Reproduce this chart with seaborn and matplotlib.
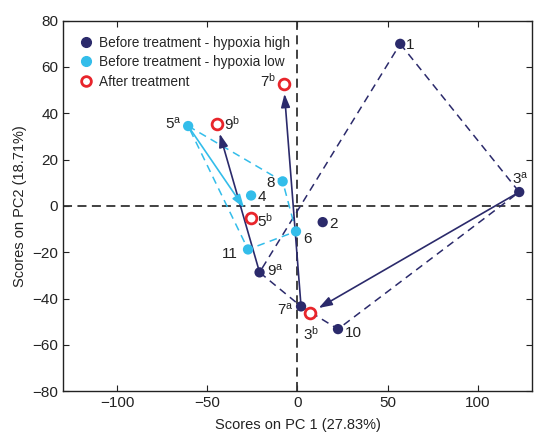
import numpy as np
import pandas as pd
import matplotlib
matplotlib.use('Agg')
import matplotlib.pyplot as plt
import seaborn as sns
from matplotlib.lines import Line2D

sns.set_style('ticks')
plt.rcParams['font.family'] = ['Liberation Sans', 'DejaVu Sans']
plt.rcParams['mathtext.fontset'] = 'custom'
plt.rcParams['mathtext.rm'] = 'Liberation Sans'
plt.rcParams['mathtext.it'] = 'Liberation Sans'

# before treatment - hypoxia high
high_lbl = ['1', '$3^{a}$', '2', '$9^{a}$', '$7^{a}$', '10']
high_x = [57, 123, 14, -21, 2, 22.5]
high_y = [70, 6, -7, -28.7, -43.4, -53.2]
# before treatment - hypoxia low
low_lbl = ['$5^{a}$', '8', '4', '6', '11']
low_x = [-60.6, -8.2, -25.7, -0.8, -27.4]
low_y = [34.5, 10.6, 4.5, -11, -18.8]
# after treatment
after_lbl = ['$7^{b}$', '$9^{b}$', '$5^{b}$', '$3^{b}$']
after_x = [-7.6, -44.6, -25.7, 7.1]
after_y = [52.6, 35.2, -5.3, -46.2]

dark = '#2b2a6b'
light = '#33bdea'
red = '#e8252b'

hi = pd.DataFrame({'x': high_x, 'y': high_y, 'lbl': high_lbl})
lo = pd.DataFrame({'x': low_x, 'y': low_y, 'lbl': low_lbl})
af = pd.DataFrame({'x': after_x, 'y': after_y, 'lbl': after_lbl})

fig = plt.figure(figsize=(5.34, 4.4), dpi=100)
ax = fig.add_axes([0.118, 0.111, 0.878, 0.842])

ax.axhline(0, color='#333333', ls=(0, (5, 3)), lw=1.3, zorder=1)
ax.axvline(0, color='#333333', ls=(0, (5, 3)), lw=1.3, zorder=1)

# hulls
hull_hi = ['1', '$3^{a}$', '10', '$7^{a}$', '$9^{a}$', '1']
hh = hi.set_index('lbl').loc[hull_hi]
ax.plot(hh['x'], hh['y'], color=dark, ls=(0, (5, 3.5)), lw=1.1, zorder=2)
hull_lo = ['$5^{a}$', '8', '6', '11', '$5^{a}$']
hl = lo.set_index('lbl').loc[hull_lo]
ax.plot(hl['x'], hl['y'], color=light, ls=(0, (5, 3.5)), lw=1.1, zorder=2)

# treatment arrows
pos = pd.concat([hi, lo, af]).set_index('lbl')
arrows = [('$9^{a}$', '$9^{b}$', dark, 7), ('$7^{a}$', '$7^{b}$', dark, 7),
          ('$3^{a}$', '$3^{b}$', dark, 7), ('$5^{a}$', '$5^{b}$', light, 9)]
for a, b, c, sh in arrows:
    ax.annotate('', xy=(pos.loc[b, 'x'], pos.loc[b, 'y']),
                xytext=(pos.loc[a, 'x'], pos.loc[a, 'y']),
                arrowprops=dict(arrowstyle='-|>,head_length=0.8,head_width=0.27',
                                color=c, lw=1.2, shrinkA=0, shrinkB=sh),
                zorder=3)

sns.scatterplot(data=hi, x='x', y='y', color=dark, s=55, edgecolor='none', ax=ax, zorder=4)
sns.scatterplot(data=lo, x='x', y='y', color=light, s=55, edgecolor='none', ax=ax, zorder=4)
ax.scatter(af['x'], af['y'], s=60, facecolors='white', edgecolors=red, linewidths=2, zorder=5)

offsets = {'1': (4, -4), '$3^{a}$': (-5, 6), '2': (5, -4), '$9^{a}$': (5, -2), '$7^{a}$': (-17, -6),
           '10': (5, -6), '$5^{a}$': (-17, -2), '8': (-12, -4), '4': (5, -4), '6': (5, -8),
           '11': (-19, -6), '$7^{b}$': (-17, -2), '$9^{b}$': (5, -4), '$5^{b}$': (4, -6),
           '$3^{b}$': (-5, -19)}
for lbl, r in pos.iterrows():
    ax.annotate(lbl, (r['x'], r['y']), xytext=offsets[lbl], textcoords='offset points',
                fontsize=11, color='#222222', zorder=6)

ax.set_xlim(-130, 130)
ax.set_ylim(-80, 80)
ax.set_xticks([-100, -50, 0, 50, 100])
ax.set_yticks(np.arange(-80, 81, 20))
ax.set_xticklabels(['\u2212100', '\u221250', '0', '50', '100'])
ax.set_yticklabels(['\u2212' + str(-v) if v < 0 else str(v) for v in range(-80, 81, 20)])
ax.tick_params(direction='in', top=True, right=True, length=4, labelsize=11, colors='#222222')
for s in ax.spines.values():
    s.set_color('#222222')
    s.set_linewidth(1)
ax.set_xlabel('Scores on PC 1 (27.83%)', fontsize=10.5, color='#222222', labelpad=6)
ax.set_ylabel('Scores on PC2 (18.71%)', fontsize=10.5, color='#222222', labelpad=4)

handles = [Line2D([], [], marker='o', ls='none', color=dark, markersize=7),
           Line2D([], [], marker='o', ls='none', color=light, markersize=7),
           Line2D([], [], marker='o', ls='none', markerfacecolor='white',
                  markeredgecolor=red, markeredgewidth=2, markersize=7)]
ax.legend(handles, ['Before treatment - hypoxia high', 'Before treatment - hypoxia low',
                    'After treatment'], loc='upper left', frameon=False, fontsize=9.8,
          handletextpad=0.35, borderaxespad=0.7, labelspacing=0.4, handlelength=1.2)

fig.savefig('out.png', dpi=100)
